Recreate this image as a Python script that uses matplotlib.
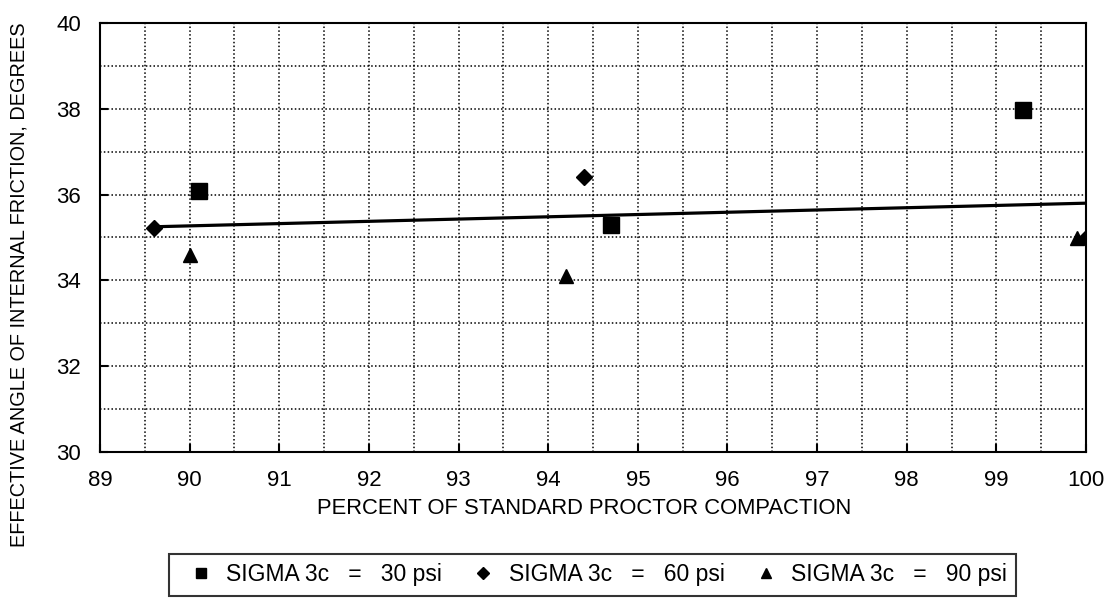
import matplotlib
matplotlib.use("Agg")
from matplotlib import pyplot as plt
from matplotlib.ticker import MultipleLocator

plt.rcParams['font.family'] = ['Liberation Sans', 'DejaVu Sans']

# data
x_30 = [90.1, 94.7, 99.3]
y_30 = [36.08, 35.3, 37.98]
x_60 = [89.6, 94.4, 100.0]
y_60 = [35.22, 36.4, 34.98]
x_90 = [90.0, 94.2, 99.9]
y_90 = [34.6, 34.1, 34.98]
trend_x = [89.6, 100.0]
trend_y = [35.25, 35.8]

labels = ["SIGMA 3c   =   30 psi", "SIGMA 3c   =   60 psi", "SIGMA 3c   =   90 psi"]

fig = plt.figure(figsize=(11.11, 6.03), dpi=100)
ax = fig.add_axes([100 / 1111, 1 - 452 / 603, 986 / 1111, 429 / 603])

ax.plot(trend_x, trend_y, c='black', lw=2.3, zorder=3)
ax.plot(x_30, y_30, 's', c='black', ms=11, label=labels[0], zorder=4)
ax.plot(x_60, y_60, 'D', c='black', ms=8.5, label=labels[1], zorder=4)
ax.plot(x_90, y_90, '^', c='black', ms=10, label=labels[2], zorder=4)

ax.set_xlim(89, 100)
ax.set_ylim(30, 40)
ax.xaxis.set_major_locator(MultipleLocator(1))
ax.xaxis.set_minor_locator(MultipleLocator(0.5))
ax.yaxis.set_major_locator(MultipleLocator(2))
ax.yaxis.set_minor_locator(MultipleLocator(1))
ax.grid(True, which='both', ls=(0, (1, 1.5)), c='black', lw=1.1)
ax.tick_params(axis='x', which='major', labelsize=16, direction='in', length=6, width=1.5, pad=13)
ax.tick_params(axis='y', which='major', labelsize=16, direction='in', length=6, width=1.5, pad=13.5)
ax.tick_params(axis='both', which='minor', length=0)
for s in ax.spines.values():
    s.set_linewidth(1.5)

fig.text(584 / 1111, 1 - 509 / 603, "PERCENT OF STANDARD PROCTOR COMPACTION",
         fontsize=15.8, ha='center', va='center')
fig.text(19 / 1111, 1 - 285 / 603, "EFFECTIVE ANGLE OF INTERNAL FRICTION, DEGREES",
         fontsize=14.3, rotation=90, ha='center', va='center')

leg = ax.legend(loc='center', bbox_to_anchor=(592.5 / 1111, 1 - 575 / 603), bbox_transform=fig.transFigure,
                ncol=3, fontsize=16.5, frameon=True, fancybox=False, edgecolor='black',
                markerscale=0.7, handlelength=2.0, handletextpad=0.1, columnspacing=0.8,
                borderpad=0.4)
leg.get_frame().set_linewidth(1.5)

plt.savefig("out.png", dpi=100)
